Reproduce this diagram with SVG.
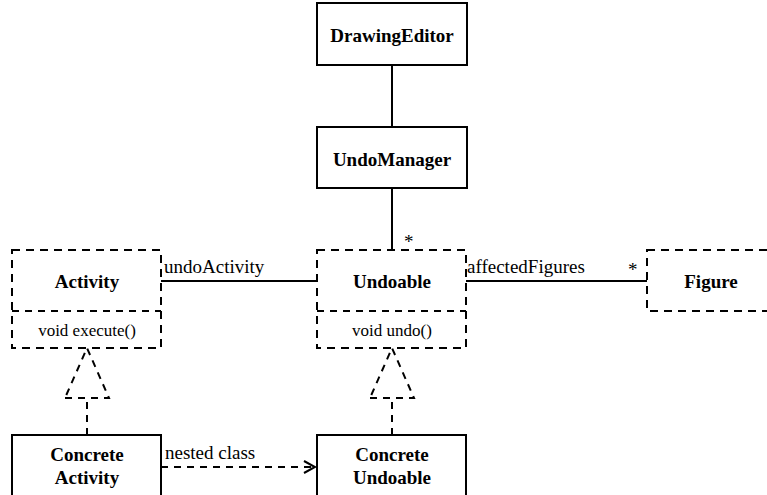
<svg xmlns="http://www.w3.org/2000/svg" width="767" height="495" viewBox="0 0 767 495">
<style>
.box{fill:#fff;stroke:#000;stroke-width:2}
.dbox{fill:#fff;stroke:#000;stroke-width:2;stroke-dasharray:8,6}
.ln{fill:none;stroke:#000;stroke-width:2}
.dl{fill:none;stroke:#000;stroke-width:2;stroke-dasharray:7,6}
text{font-family:'Liberation Serif','Times New Roman',serif;fill:#000}
.t{font-size:19px;font-weight:bold;text-anchor:middle}
.m{font-size:17px;text-anchor:middle}
.l{font-size:19px}
</style>
<defs>
<marker id="open" markerWidth="14" markerHeight="14" refX="12" refY="7" orient="auto" markerUnits="userSpaceOnUse">
<path d="M1,1 L12,7 L1,13" fill="none" stroke="#000" stroke-width="2"/>
</marker>
</defs>
<g id="connectors">
<line class="ln" x1="392" y1="65" x2="392" y2="127"/>
<line class="ln" x1="392" y1="188" x2="392" y2="250"/>
<line class="ln" x1="161" y1="281" x2="317" y2="281"/>
<line class="ln" x1="466" y1="281" x2="647" y2="281"/>
<path class="dl" d="M87,435 L87,398 M65,398 L109,398 L87,348 Z"/>
<path class="dl" d="M392,435 L392,398 M370,398 L414,398 L392,348 Z"/>
<line class="dl" x1="161" y1="467" x2="315" y2="467" marker-end="url(#open)"/>
<text class="l" x="164" y="273">undoActivity</text>
<text class="l" x="467" y="273">affectedFigures</text>
<text class="l" x="628" y="276">*</text>
<text class="l" x="404" y="248">*</text>
<text class="l" x="165" y="459">nested class</text>
</g>
<g id="DrawingEditor">
<rect class="box" x="317" y="3" width="150" height="62"/>
<text class="t" x="392" y="42">DrawingEditor</text>
</g>
<g id="UndoManager">
<rect class="box" x="317" y="127" width="150" height="61"/>
<text class="t" x="392" y="166">UndoManager</text>
</g>
<g id="Activity">
<rect class="dbox" x="12" y="250" width="149" height="98"/>
<line class="dl" x1="12" y1="311" x2="161" y2="311"/>
<text class="t" x="87" y="288">Activity</text>
<text class="m" x="87" y="336">void execute()</text>
</g>
<g id="Undoable">
<rect class="dbox" x="317" y="250" width="149" height="98"/>
<line class="dl" x1="317" y1="311" x2="466" y2="311"/>
<text class="t" x="392" y="288">Undoable</text>
<text class="m" x="392" y="336">void undo()</text>
</g>
<g id="Figure">
<rect class="dbox" x="647" y="250" width="150" height="61"/>
<text class="t" x="711" y="288">Figure</text>
</g>
<g id="ConcreteActivity">
<rect class="box" x="12" y="435" width="149" height="70"/>
<text class="t" x="87" y="461">Concrete</text>
<text class="t" x="87" y="484">Activity</text>
</g>
<g id="ConcreteUndoable">
<rect class="box" x="317" y="435" width="149" height="70"/>
<text class="t" x="392" y="461">Concrete</text>
<text class="t" x="392" y="484">Undoable</text>
</g>
</svg>
